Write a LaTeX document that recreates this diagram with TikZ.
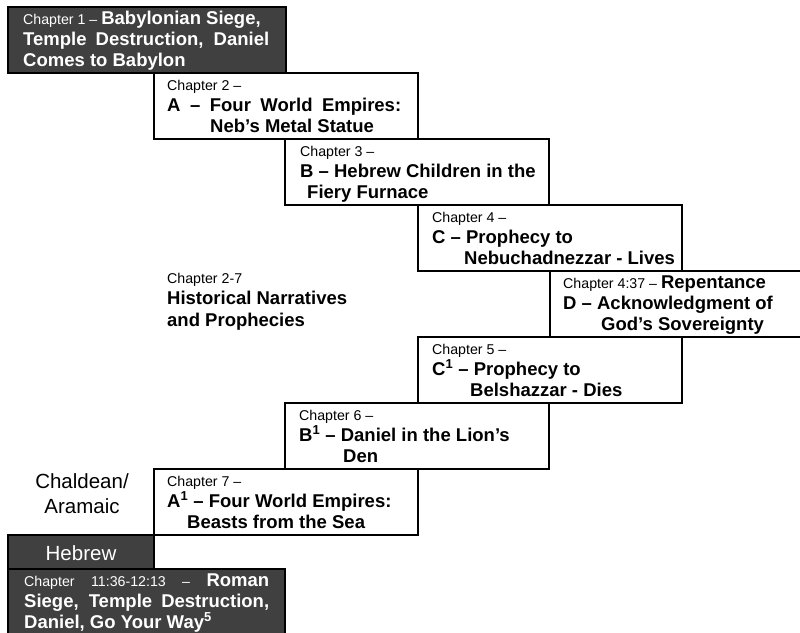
\documentclass[tikz,border=0pt]{standalone}
\usepackage{fontspec}
\setmainfont{Liberation Sans}
\usetikzlibrary{positioning}
\definecolor{slate}{RGB}{64,64,64}
\newcommand{\hd}[1]{{\fontsize{18.5}{21}\selectfont\bfseries #1}}
\newcommand{\fitline}[2]{\makebox[#1][s]{#2}}

\begin{document}
\begin{tikzpicture}[x=1pt, y=-1pt,
    chbox/.style={draw=black, line width=2pt, fill=white, rectangle, anchor=north west, inner sep=0pt, minimum width=264pt, minimum height=66pt},
    darkbox/.style={chbox, fill=slate},
    chtext/.style={anchor=base west, align=left, inner sep=0pt, font=\fontsize{14.2}{21}\selectfont}]

    \useasboundingbox (0,0) rectangle (800,632);
    \clip (0,0) rectangle (800,632);

    % staircase of chapters
    \node[darkbox, minimum width=278pt] (c1) at (7,6) {};
    \node[chbox] (c2) at (153,72) {};
    \node[chbox] (c3) at (284,138) {};
    \node[chbox] (c4) at (417,204) {};
    \node[chbox, minimum width=260pt] (c4b) at (549,270) {};
    \node[chbox] (c5) at (417,336) {};
    \node[chbox] (c6) at (284,402) {};
    \node[chbox] (c7) at (153,468) {};
    \node[darkbox, minimum width=146pt, minimum height=34pt] (heb) at (7,534) {};
    \node[darkbox, minimum width=277pt, minimum height=70pt] (c11) at (7,568) {};

    % texts, anchored at the baseline of their last line
    \node[chtext, text=white] (t1) at ([shift={(16,60)}]c1.north west)
        {Chapter 1 -- \hd{Babylonian Siege,}\\ \fitline{246pt}{\hd{Temple Destruction, Daniel}}\\ \hd{Comes to Babylon}};
    \node[chtext] (t2) at ([shift={(14,60)}]c2.north west)
        {Chapter 2 --\\ \fitline{234pt}{\hd{A -- Four World Empires:}}\\ \hspace*{43pt}\hd{Neb’s Metal Statue}};
    \node[chtext] (t3) at ([shift={(16,60)}]c3.north west)
        {Chapter 3 --\\ \hd{B -- Hebrew Children in the}\\ \hspace*{7pt}\hd{Fiery Furnace}};
    \node[chtext] (t4) at ([shift={(15,60)}]c4.north west)
        {Chapter 4 --\\ \hd{C -- Prophecy to}\\ \hspace*{32pt}\hd{Nebuchadnezzar - Lives}};
    \node[chtext] (t4b) at ([shift={(14,60)}]c4b.north west)
        {Chapter 4:37 -- \hd{Repentance}\\ \hd{D -- Acknowledgment of}\\ \hspace*{38pt}\hd{God’s Sovereignty}};
    \node[chtext] (t5) at ([shift={(15,60)}]c5.north west)
        {Chapter 5 --\\ \hd{C\textsuperscript{1} -- Prophecy to}\\ \hspace*{38pt}\hd{Belshazzar - Dies}};
    \node[chtext] (t6) at ([shift={(15,60)}]c6.north west)
        {Chapter 6 --\\ \hd{B\textsuperscript{1} -- Daniel in the Lion’s}\\ \hspace*{44pt}\hd{Den}};
    \node[chtext] (t7) at ([shift={(14,60)}]c7.north west)
        {Chapter 7 --\\ \hd{A\textsuperscript{1} -- Four World Empires:}\\ \hspace*{20pt}\hd{Beasts from the Sea}};
    \node[chtext, text=white] (t11) at ([shift={(17,60)}]c11.north west)
        {\fitline{245pt}{Chapter 11:36-12:13 -- \hd{Roman}}\\ \fitline{245pt}{\hd{Siege, Temple Destruction,}}\\ \hd{Daniel, Go Your Way\textsuperscript{5}}};

    % language labels
    \node[anchor=base, text=white, inner sep=0pt, font=\fontsize{20.5}{24}\selectfont] (lheb) at ([shift={(0,26)}]heb.north) {Hebrew};
    \node[anchor=base, align=center, inner sep=0pt, font=\fontsize{20.5}{24.5}\selectfont] (lara) at (82,513) {Chaldean/\\Aramaic};

    % section note
    \node[chtext, font=\fontsize{14.2}{21.5}\selectfont] (narr) at (167,326)
        {Chapter 2-7\\ \hd{Historical Narratives}\\ \hd{and Prophecies}};
\end{tikzpicture}
\end{document}
